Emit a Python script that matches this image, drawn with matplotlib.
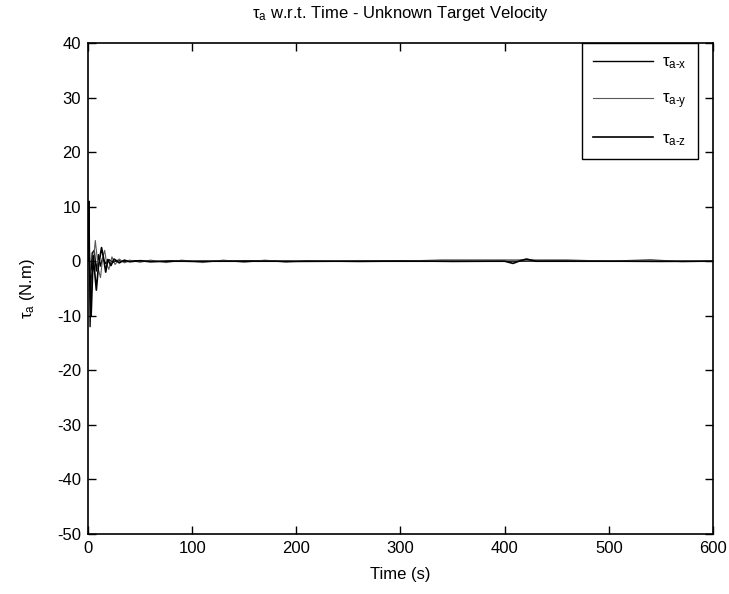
import matplotlib
matplotlib.use("Agg")
import matplotlib.pyplot as plt

plt.rcParams['font.family'] = ['Liberation Sans', 'DejaVu Sans']
plt.rcParams['mathtext.fontset'] = 'custom'
plt.rcParams['mathtext.rm'] = 'Liberation Sans'
plt.rcParams['mathtext.it'] = 'Liberation Sans'
plt.rcParams['axes.unicode_minus'] = False

# ---- data ----
t_x = [0, 0.5, 1, 2, 3, 4, 6, 8, 10, 12, 14, 17, 20, 24, 28, 35, 45, 60, 80, 100, 130, 160, 200, 250, 300, 350, 400, 450, 500, 550, 600]
tau_x = [0, 6, 11, -12, -3, 1.5, 2.0, -1.8, 1.2, -0.9, 0.6, -0.4, 0.3, -0.2, 0.15, -0.1, 0.1, -0.1, 0.05, -0.05, 0.0, 0.05, -0.05, 0.0, 0.05, -0.05, 0.0, 0.05, 0.0, -0.05, 0.0]

t_y = [0, 1, 2, 4, 7, 10, 12, 14, 16, 18, 20, 23, 26, 30, 35, 40, 50, 60, 75, 90, 110, 130, 150, 170, 190, 210, 230, 260, 300, 340, 380, 420, 460, 500, 540, 570, 600]
tau_y = [0, 2, -1, -2.5, 3.8, -1.5, -3.0, 0.5, 2.0, -0.5, -1.5, 0.8, -0.6, 0.4, -0.3, 0.2, -0.2, 0.2, -0.25, 0.2, -0.25, 0.2, -0.2, 0.2, -0.2, 0.1, 0.0, -0.1, 0.0, 0.25, 0.25, 0.25, 0.25, 0.0, 0.3, -0.1, 0.0]

t_z = [0, 1, 2, 3, 5, 8, 10, 13, 15, 17, 19, 22, 25, 30, 35, 40, 50, 60, 80, 100, 150, 200, 300, 400, 408, 415, 421, 430, 500, 600]
tau_z = [0, 3, -4, -10, 1, -5.3, -1, 2.5, 0.5, -2.0, 0.3, -0.8, 0.4, -0.3, 0.2, -0.1, 0.1, -0.05, 0.0, 0.0, 0.0, 0.0, 0.0, 0.0, -0.4, 0.1, 0.4, 0.0, 0.0, 0.0]

labels = [r'$\tau_{\mathrm{a\text{-}x}}$', r'$\tau_{\mathrm{a\text{-}y}}$', r'$\tau_{\mathrm{a\text{-}z}}$']

xticks = [0, 100, 200, 300, 400, 500, 600]
yticks = [-50, -40, -30, -20, -10, 0, 10, 20, 30, 40]

fig = plt.figure(figsize=(7.29, 5.94), dpi=100)
ax = fig.add_axes([88/729, 1-534/594, 625/729, 491/594])

ax.plot(t_x, tau_x, color='black', lw=1.0, label=labels[0])
ax.plot(t_y, tau_y, color='0.35', lw=0.8, label=labels[1])
ax.plot(t_z, tau_z, color='black', lw=1.2, label=labels[2])

ax.set_xlim(0, 600)
ax.set_ylim(-50, 40)
ax.set_xticks(xticks)
ax.set_yticks(yticks)
ax.tick_params(direction='in', top=True, right=True, length=6, width=1, labelsize=12, pad=5)
for s in ax.spines.values():
    s.set_linewidth(1.2)

ax.set_xlabel('Time (s)', fontsize=12, labelpad=8)
ax.set_ylabel(r'$\tau_a$ (N.m)', fontsize=12, labelpad=14)
ax.set_title(r'$\tau_a$ w.r.t. Time - Unknown Target Velocity', fontsize=12, pad=18)

leg = ax.legend(loc='upper right', bbox_to_anchor=((698-88)/625, 1.0), borderaxespad=0,
                fancybox=False, edgecolor='black', framealpha=1, fontsize=12,
                handlelength=3.6, labelspacing=1.2, borderpad=0.7, handletextpad=0.5)
leg.get_frame().set_linewidth(1.0)

fig.savefig('out.png', dpi=100)
